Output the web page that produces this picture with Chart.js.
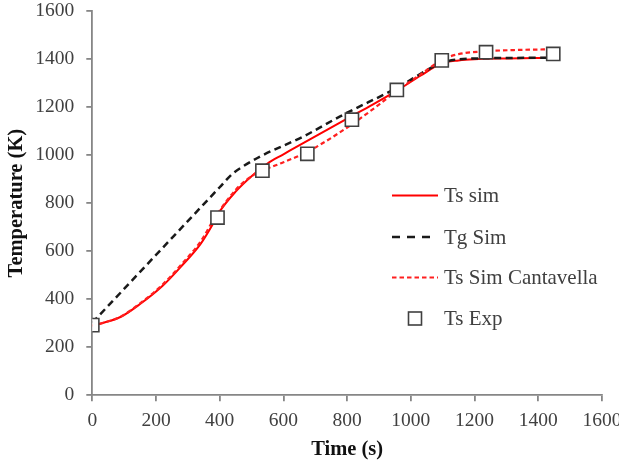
<!DOCTYPE html>
<html>
<head>
<meta charset="utf-8">
<script src="https://cdn.jsdelivr.net/npm/chart.js@4/dist/chart.umd.min.js"></script>
<style>
html,body{margin:0;padding:0;background:#fff;}
#wrap{width:619px;height:462px;position:relative;}
</style>
</head>
<body>
<div id="wrap"><canvas id="c" width="619" height="462"></canvas></div>
<script>
// ---- data ----
const tsSimTime = [0, 30, 90, 150, 220, 280, 340, 385, 400, 450, 500, 550, 600, 662, 800, 880, 956, 1030, 1097, 1150, 1200, 1300, 1450];
const tsSimTemp = [290, 300, 327, 380, 455, 538, 630, 728, 765, 848, 912, 965, 1003, 1050, 1152, 1210, 1268, 1330, 1382, 1394, 1399, 1402, 1405];

const tgSimTime = [0, 353, 400, 440, 470, 527, 662, 788, 950, 1100, 1150, 1200, 1450];
const tgSimTemp = [302, 800, 866, 922, 950, 994, 1077, 1168, 1275, 1385, 1398, 1402, 1405];

const cantTime = [0, 30, 90, 150, 220, 280, 340, 385, 450, 500, 534, 600, 662, 715, 815, 900, 956, 1030, 1100, 1150, 1236, 1350, 1450];
const cantTemp = [290, 300, 328, 383, 460, 545, 640, 740, 855, 912, 935, 970, 1005, 1043, 1128, 1210, 1268, 1335, 1398, 1420, 1432, 1438, 1440];

const expTime = [0, 393, 534, 675, 815, 956, 1097, 1236, 1447];
const expTemp = [292, 740, 935, 1005, 1147, 1271, 1394, 1428, 1421];

const xTicks = [0, 200, 400, 600, 800, 1000, 1200, 1400, 1600];
const yTicks = [0, 200, 400, 600, 800, 1000, 1200, 1400, 1600];

const seriesNames = ['Ts sim', 'Tg Sim', 'Ts Sim Cantavella', 'Ts Exp'];

const pts = (xs, ys) => xs.map((x, i) => ({x: x, y: ys[i]}));

const FONT = "'Liberation Serif', 'Times New Roman', serif";
const TXT = '#404040';
const AX = '#868686';

const legendPlugin = {
  id: 'inlineLegend',
  afterDatasetsDraw(chart) {
    const ctx = chart.ctx;
    const ds = chart.data.datasets;
    const rows = [195.5, 237, 277.5, 318.5];
    const x0 = 392, tx = 444;
    ctx.save();
    ctx.font = "21px " + FONT;
    ctx.textBaseline = 'middle';
    ctx.textAlign = 'left';
    seriesNames.forEach((name, i) => {
      const d = ds.find(s => s.label === name);
      const y = rows[i];
      if (d.showLine) {
        ctx.save();
        ctx.strokeStyle = d.borderColor;
        ctx.lineWidth = d.borderWidth;
        ctx.setLineDash(d.legendDash || d.borderDash || []);
        ctx.beginPath();
        ctx.moveTo(x0, y);
        ctx.lineTo(d.legendEnd || 438, y);
        ctx.stroke();
        ctx.restore();
      } else {
        ctx.save();
        ctx.fillStyle = d.pointBackgroundColor;
        ctx.strokeStyle = d.pointBorderColor;
        ctx.lineWidth = d.pointBorderWidth;
        const s = 6.5;
        const cx = 415;
        ctx.fillRect(cx - s, y - s, 2 * s, 2 * s);
        ctx.strokeRect(cx - s, y - s, 2 * s, 2 * s);
        ctx.restore();
      }
      ctx.fillStyle = TXT;
      ctx.fillText(name, tx, y + 1);
    });
    ctx.restore();
  }
};

new Chart(document.getElementById('c'), {
  type: 'scatter',
  data: {
    datasets: [
      {
        label: seriesNames[3],
        data: pts(expTime, expTemp),
        showLine: false,
        pointStyle: 'rect',
        pointRadius: 9.3,
        pointBackgroundColor: '#ffffff',
        pointBorderColor: '#404040',
        pointBorderWidth: 1.6,
        order: 0
      },
      {
        label: seriesNames[0],
        data: pts(tsSimTime, tsSimTemp),
        showLine: true,
        borderColor: '#ff0000',
        borderWidth: 2,
        pointRadius: 0,
        cubicInterpolationMode: 'monotone',
        order: 3
      },
      {
        label: seriesNames[1],
        data: pts(tgSimTime, tgSimTemp),
        showLine: true,
        borderColor: '#1a1a1a',
        borderWidth: 2.5,
        borderDash: [7, 4.5],
        legendDash: [8, 7],
        legendEnd: 431,
        pointRadius: 0,
        cubicInterpolationMode: 'monotone',
        order: 2
      },
      {
        label: seriesNames[2],
        data: pts(cantTime, cantTemp),
        showLine: true,
        borderColor: '#ff2020',
        borderWidth: 2.2,
        borderDash: [4.5, 3],
        legendDash: [4.5, 3],
        pointRadius: 0,
        cubicInterpolationMode: 'monotone',
        order: 1
      }
    ]
  },
  options: {
    responsive: false,
    animation: false,
    layout: { padding: { left: 0, right: 17, top: 10.7, bottom: 0 } },
    plugins: {
      legend: { display: false },
      tooltip: { enabled: false }
    },
    scales: {
      x: {
        type: 'linear',
        min: 0, max: 1600,
        afterBuildTicks: (s) => { s.ticks = xTicks.map(v => ({value: v})); },
        afterFit: (s) => { s.height = 66.7; s.paddingLeft = 0; s.paddingRight = 0; },
        border: { display: true, color: AX, width: 1.8 },
        grid: { display: true, drawOnChartArea: false, drawTicks: true, tickLength: 6, color: AX, lineWidth: 1.8 },
        ticks: { color: TXT, font: { family: FONT, size: 19.5 }, padding: 8, maxRotation: 0, autoSkip: false, callback: (v) => String(v) },
        title: { display: true, text: 'Time (s)', color: '#111', font: { family: FONT, size: 20.5, weight: 'bold' }, padding: { top: 0, bottom: 0 } }
      },
      y: {
        type: 'linear',
        min: 0, max: 1600,
        afterBuildTicks: (s) => { s.ticks = yTicks.map(v => ({value: v})); },
        afterFit: (s) => { s.width = 92.3; s.paddingTop = 0; s.paddingBottom = 0; },
        border: { display: true, color: AX, width: 1.8 },
        grid: { display: true, drawOnChartArea: false, drawTicks: true, tickLength: 6, color: AX, lineWidth: 1.8 },
        ticks: { color: TXT, font: { family: FONT, size: 19.5 }, padding: 12, autoSkip: false, callback: (v) => String(v) },
        title: { display: true, text: 'Temperature (K)', color: '#111', font: { family: FONT, size: 20.5, weight: 'bold' }, padding: { top: 4, bottom: 0 } }
      }
    }
  },
  plugins: [legendPlugin]
});
</script>
</body>
</html>
